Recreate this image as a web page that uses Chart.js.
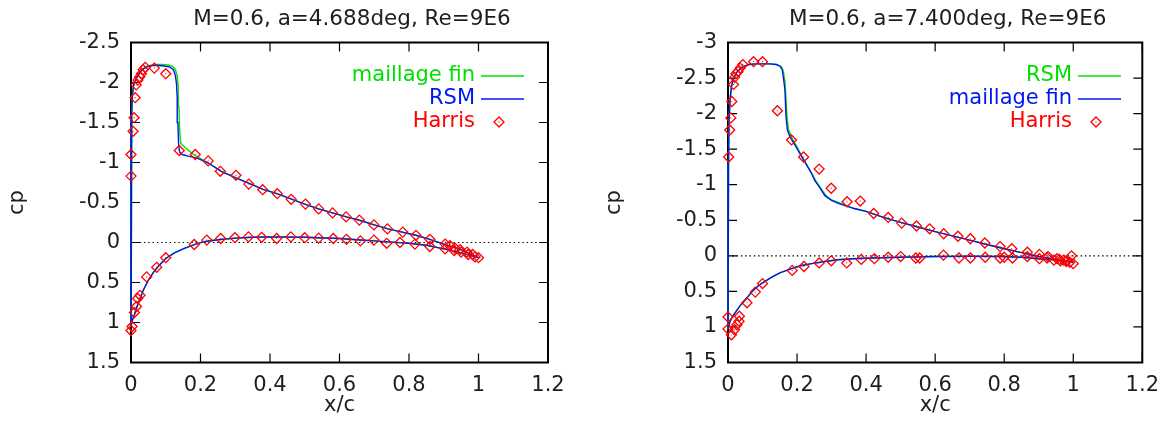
<!DOCTYPE html>
<html>
<head>
<meta charset="utf-8">
<title>cp - x/c</title>
<script src="https://cdn.jsdelivr.net/npm/chart.js@4.4.1/dist/chart.umd.min.js"></script>
<style>
  html, body { margin: 0; padding: 0; background: #fff; overflow: hidden; }
  .panel { position: absolute; top: 0; height: 421px; }
  #panelLow { left: 0; width: 597px; }
  #panelHigh { left: 597px; width: 572px; }
</style>
</head>
<body>
<div class="panel" id="panelLow"><canvas id="cpLow"></canvas></div>
<div class="panel" id="panelHigh"><canvas id="cpHigh"></canvas></div>
<script>
// Axis ticks
const xTicks = [0, 0.2, 0.4, 0.6, 0.8, 1, 1.2];
const cpTicksLow = [-2.5, -2, -1.5, -1, -0.5, 0, 0.5, 1, 1.5];
const cpTicksHigh = [-3, -2.5, -2, -1.5, -1, -0.5, 0, 0.5, 1, 1.5];

const titleLow = 'M=0.6, a=4.688deg, Re=9E6';
const titleHigh = 'M=0.6, a=7.400deg, Re=9E6';

// a = 4.688 deg : computed curves, [x/c, cp], trailing edge -> leading edge -> trailing edge
const lowRsm = [
  [1.0, 0.19], [0.95, 0.09], [0.90, 0.02], [0.86, -0.04], [0.82, -0.09], [0.78, -0.13],
  [0.74, -0.17], [0.70, -0.22], [0.66, -0.275], [0.62, -0.32], [0.58, -0.37], [0.54, -0.42],
  [0.50, -0.48], [0.46, -0.545], [0.42, -0.61], [0.38, -0.665], [0.34, -0.74], [0.30, -0.81],
  [0.26, -0.89], [0.22, -1.0], [0.19, -1.055], [0.165, -1.08], [0.147, -1.10], [0.14, -1.13],
  [0.137, -1.22], [0.135, -1.5], [0.133, -1.8], [0.131, -1.98], [0.128, -2.08], [0.124, -2.14],
  [0.12, -2.17], [0.11, -2.195], [0.09, -2.21], [0.07, -2.215], [0.05, -2.205], [0.035, -2.17],
  [0.025, -2.12], [0.015, -2.05], [0.008, -1.98], [0.004, -1.85], [0.002, -1.6], [0.001, -1.1],
  [0.0005, -0.3], [0.0, 0.5], [0.0005, 1.05], [0.003, 0.98], [0.01, 0.9], [0.02, 0.77],
  [0.035, 0.60], [0.05, 0.47], [0.065, 0.37], [0.08, 0.29], [0.10, 0.20], [0.125, 0.13],
  [0.15, 0.08], [0.18, 0.03], [0.21, -0.01], [0.25, -0.035], [0.30, -0.055], [0.35, -0.065],
  [0.40, -0.07], [0.50, -0.065], [0.60, -0.05], [0.65, -0.035], [0.70, -0.02], [0.75, -0.005],
  [0.80, 0.01], [0.85, 0.035], [0.90, 0.08], [0.95, 0.13], [1.0, 0.19]
];
const lowFine = [
  [1.0, 0.19], [0.95, 0.09], [0.90, 0.02], [0.86, -0.04], [0.82, -0.09], [0.78, -0.13],
  [0.74, -0.17], [0.70, -0.22], [0.66, -0.275], [0.62, -0.32], [0.58, -0.37], [0.54, -0.42],
  [0.50, -0.48], [0.46, -0.545], [0.42, -0.61], [0.38, -0.665], [0.34, -0.74], [0.30, -0.81],
  [0.26, -0.89], [0.22, -1.0], [0.20, -1.05], [0.18, -1.10], [0.16, -1.17], [0.143, -1.24],
  [0.14, -1.4], [0.138, -1.7], [0.136, -1.95], [0.133, -2.08], [0.128, -2.16], [0.12, -2.2],
  [0.11, -2.215], [0.09, -2.225], [0.07, -2.225], [0.05, -2.21], [0.035, -2.17],
  [0.025, -2.12], [0.015, -2.05], [0.008, -1.98], [0.004, -1.85], [0.002, -1.6], [0.001, -1.1],
  [0.0005, -0.3], [0.0, 0.5], [0.0005, 1.05], [0.003, 0.98], [0.01, 0.9], [0.02, 0.77],
  [0.035, 0.60], [0.05, 0.47], [0.065, 0.37], [0.08, 0.29], [0.10, 0.20], [0.125, 0.13],
  [0.15, 0.08], [0.18, 0.03], [0.21, -0.01], [0.25, -0.035], [0.30, -0.055], [0.35, -0.065],
  [0.40, -0.07], [0.50, -0.065], [0.60, -0.05], [0.65, -0.035], [0.70, -0.02], [0.75, -0.005],
  [0.80, 0.01], [0.85, 0.035], [0.90, 0.08], [0.95, 0.13], [1.0, 0.19]
];
// a = 4.688 deg : Harris measurements
const lowHarris = [
  [0.0, -0.83], [0.0, -1.10], [0.006, -1.39], [0.009, -1.56], [0.012, -1.81], [0.015, -1.97],
  [0.02, -2.03], [0.025, -2.07], [0.03, -2.11], [0.035, -2.16], [0.041, -2.19], [0.067, -2.18],
  [0.10, -2.11], [0.139, -1.15], [0.185, -1.10], [0.222, -1.02], [0.257, -0.89], [0.302, -0.84],
  [0.339, -0.73], [0.379, -0.66], [0.421, -0.61], [0.461, -0.54], [0.502, -0.48], [0.54, -0.42],
  [0.58, -0.37], [0.619, -0.32], [0.657, -0.28], [0.699, -0.22], [0.738, -0.17], [0.782, -0.13],
  [0.82, -0.09], [0.86, -0.04], [0.904, 0.02], [0.918, 0.04], [0.932, 0.07], [0.947, 0.09],
  [0.967, 0.12], [0.983, 0.15], [1.0, 0.19],
  [0.0, 1.10], [0.003, 1.05], [0.01, 0.875], [0.016, 0.80], [0.019, 0.70], [0.026, 0.66],
  [0.045, 0.43], [0.074, 0.31], [0.10, 0.19], [0.182, 0.025], [0.218, -0.03], [0.258, -0.05],
  [0.299, -0.06], [0.338, -0.07], [0.376, -0.065], [0.419, -0.05], [0.46, -0.07], [0.50, -0.06],
  [0.54, -0.055], [0.582, -0.05], [0.62, -0.04], [0.66, -0.02], [0.699, -0.03], [0.736, 0.01],
  [0.774, 0.0], [0.817, 0.02], [0.86, 0.05], [0.904, 0.08], [0.93, 0.10], [0.95, 0.12],
  [0.97, 0.15], [0.99, 0.18]
];

// a = 7.400 deg : computed curves
const highFine = [
  [1.0, 0.09], [0.95, 0.05], [0.90, 0.01], [0.85, -0.045], [0.80, -0.10], [0.75, -0.16],
  [0.70, -0.22], [0.65, -0.28], [0.60, -0.34], [0.55, -0.405], [0.50, -0.47], [0.45, -0.54],
  [0.40, -0.625], [0.366, -0.665], [0.33, -0.72], [0.318, -0.74], [0.30, -0.78], [0.28, -0.85],
  [0.266, -0.96], [0.251, -1.06], [0.242, -1.16], [0.213, -1.40], [0.195, -1.55], [0.18, -1.67],
  [0.172, -1.77], [0.168, -1.96], [0.165, -2.33], [0.162, -2.45], [0.157, -2.62], [0.15, -2.67],
  [0.14, -2.69], [0.12, -2.7], [0.10, -2.7], [0.08, -2.7], [0.06, -2.69], [0.04, -2.65],
  [0.025, -2.58], [0.015, -2.48], [0.01, -2.38], [0.006, -2.2], [0.003, -1.9], [0.0015, -1.3],
  [0.0005, -0.4], [0.0, 0.6], [0.0005, 1.0], [0.004, 0.95], [0.01, 0.88], [0.021, 0.80],
  [0.035, 0.70], [0.05, 0.62], [0.07, 0.50], [0.088, 0.42], [0.10, 0.38], [0.127, 0.30],
  [0.15, 0.24], [0.184, 0.18], [0.21, 0.14], [0.242, 0.11], [0.28, 0.08], [0.318, 0.055],
  [0.36, 0.04], [0.414, 0.03], [0.50, 0.02], [0.60, 0.01], [0.70, 0.005], [0.80, 0.01],
  [0.85, 0.02], [0.90, 0.04], [0.95, 0.06], [1.0, 0.09]
];
const highRsm = [
  [1.0, 0.09], [0.95, 0.05], [0.90, 0.01], [0.85, -0.045], [0.80, -0.10], [0.75, -0.16],
  [0.70, -0.22], [0.65, -0.28], [0.60, -0.34], [0.55, -0.405], [0.50, -0.47], [0.45, -0.54],
  [0.40, -0.625], [0.366, -0.665], [0.33, -0.73], [0.32, -0.75], [0.30, -0.785], [0.285, -0.84],
  [0.27, -0.94], [0.255, -1.05], [0.245, -1.14], [0.215, -1.39], [0.20, -1.53], [0.185, -1.66],
  [0.175, -1.78], [0.171, -1.95], [0.168, -2.2], [0.165, -2.45], [0.16, -2.6], [0.155, -2.66],
  [0.14, -2.69], [0.12, -2.7], [0.10, -2.7], [0.08, -2.7], [0.06, -2.69], [0.04, -2.65],
  [0.025, -2.58], [0.015, -2.48], [0.01, -2.38], [0.006, -2.2], [0.003, -1.9], [0.0015, -1.3],
  [0.0005, -0.4], [0.0, 0.6], [0.0005, 1.0], [0.004, 0.95], [0.01, 0.88], [0.021, 0.80],
  [0.035, 0.70], [0.05, 0.62], [0.07, 0.50], [0.088, 0.42], [0.10, 0.38], [0.127, 0.30],
  [0.15, 0.24], [0.184, 0.18], [0.21, 0.14], [0.242, 0.11], [0.28, 0.08], [0.318, 0.055],
  [0.36, 0.04], [0.414, 0.03], [0.50, 0.02], [0.60, 0.01], [0.70, 0.005], [0.80, 0.01],
  [0.85, 0.02], [0.90, 0.04], [0.95, 0.06], [1.0, 0.09]
];
// a = 7.400 deg : Harris measurements
const highHarris = [
  [0.002, -1.39], [0.005, -1.77], [0.008, -1.94], [0.011, -2.17], [0.016, -2.41], [0.019, -2.51],
  [0.023, -2.56], [0.029, -2.59], [0.035, -2.64], [0.043, -2.69], [0.074, -2.73], [0.10, -2.73],
  [0.143, -2.04], [0.184, -1.63], [0.219, -1.39], [0.264, -1.22], [0.299, -0.95], [0.345, -0.76],
  [0.383, -0.77], [0.422, -0.595], [0.464, -0.54], [0.503, -0.46], [0.546, -0.42], [0.584, -0.38],
  [0.625, -0.31], [0.666, -0.275], [0.702, -0.24], [0.744, -0.18], [0.788, -0.13], [0.822, -0.10],
  [0.867, -0.05], [0.902, -0.02], [0.927, 0.01], [0.953, 0.04], [0.96, 0.05], [0.972, 0.06],
  [0.98, 0.07], [0.99, 0.09], [0.995, 0.0], [1.0, 0.11],
  [0.0, 0.86], [0.0, 1.03], [0.01, 1.11], [0.019, 1.04], [0.026, 0.97], [0.032, 0.92],
  [0.033, 0.85], [0.055, 0.66], [0.079, 0.51], [0.10, 0.39], [0.186, 0.205], [0.22, 0.15],
  [0.264, 0.10], [0.299, 0.07], [0.344, 0.10], [0.386, 0.05], [0.424, 0.04], [0.464, 0.02],
  [0.50, 0.01], [0.544, 0.03], [0.555, 0.03], [0.624, -0.01], [0.669, 0.03], [0.702, 0.03],
  [0.745, 0.02], [0.788, 0.03], [0.80, 0.02], [0.824, 0.03], [0.867, 0.01], [0.902, 0.04],
  [0.924, 0.03], [0.944, 0.06], [0.963, 0.07], [0.98, 0.08]
];

const GREEN = '#00e000';
const BLUE = '#0018f0';
const RED = '#ff0000';
const INK = '#1e1e1e';
const FONT = { family: '"DejaVu Sans", Verdana, sans-serif', size: 21 };

const toXY = pairs => pairs.map(([x, y]) => ({ x, y }));
const fmt = v => String(Math.round(v * 10) / 10);

function curve(label, pairs, color, keyRow, order) {
  return {
    label, data: toXY(pairs), keyRow, order,
    showLine: true, borderColor: color, borderWidth: 1.4,
    pointRadius: 0, tension: 0, fill: false, clip: 4
  };
}

function harris(pairs) {
  return [{
    label: 'Harris', data: toXY(pairs), keyRow: 2, order: 0,
    showLine: false, pointStyle: 'rectRot', pointRadius: 5,
    borderColor: RED, borderWidth: 1.3, backgroundColor: 'transparent', clip: false
  }, {
    label: 'Harris centre', data: toXY(pairs), order: 0,
    showLine: false, pointStyle: 'circle', pointRadius: 0.6,
    borderWidth: 0, backgroundColor: RED, clip: false
  }];
}

function zeroLine() {
  return {
    label: 'zero', data: [{ x: 0, y: 0 }, { x: 1.2, y: 0 }], order: 5,
    showLine: true, borderColor: '#000', borderWidth: 1.1, borderDash: [1.5, 2.8],
    pointRadius: 0
  };
}

// box, inward tick marks on all four sides, title and key
const gnuFrame = {
  id: 'gnuFrame',
  beforeDatasetsDraw(chart) {
    const { ctx, chartArea: a, scales: { x, y } } = chart;
    const len = 9;
    ctx.save();
    ctx.strokeStyle = '#000';
    ctx.lineWidth = 1.2;
    ctx.beginPath();
    x.ticks.forEach(t => {
      const px = x.getPixelForValue(t.value);
      ctx.moveTo(px, a.top); ctx.lineTo(px, a.top + len);
      ctx.moveTo(px, a.bottom); ctx.lineTo(px, a.bottom - len);
    });
    y.ticks.forEach(t => {
      const py = y.getPixelForValue(t.value);
      ctx.moveTo(a.left, py); ctx.lineTo(a.left + len, py);
      ctx.moveTo(a.right, py); ctx.lineTo(a.right - len, py);
    });
    ctx.stroke();
    ctx.lineWidth = 2;
    ctx.strokeRect(a.left, a.top, a.right - a.left, a.bottom - a.top);
    ctx.restore();
  },
  afterDraw(chart, args, opts) {
    const { ctx, chartArea: a } = chart;
    ctx.save();
    ctx.textBaseline = 'middle';
    ctx.fillStyle = INK;
    ctx.textAlign = 'center';
    ctx.font = `21.5px ${FONT.family}`;
    ctx.fillText(opts.title, (a.left + a.right) / 2 + 12.5, 19);
    ctx.font = `${FONT.size}px ${FONT.family}`;

    // key, top right inside the box
    const rows = chart.data.datasets.filter(d => d.keyRow !== undefined)
      .sort((p, q) => p.keyRow - q.keyRow);
    rows.forEach(d => {
      const yy = a.top + 33.5 + d.keyRow * 23;
      ctx.fillStyle = d.borderColor;
      ctx.textAlign = 'right';
      ctx.fillText(d.label, a.left + 344, yy);
      ctx.strokeStyle = d.borderColor;
      if (d.showLine) {
        ctx.lineWidth = d.borderWidth;
        ctx.beginPath();
        ctx.moveTo(a.left + 350, yy);
        ctx.lineTo(a.left + 393, yy);
        ctx.stroke();
      } else {
        const cx = a.left + 368, r = d.pointRadius;
        ctx.lineWidth = d.borderWidth;
        ctx.beginPath();
        ctx.moveTo(cx - r, yy); ctx.lineTo(cx, yy - r);
        ctx.lineTo(cx + r, yy); ctx.lineTo(cx, yy + r);
        ctx.closePath();
        ctx.stroke();
        ctx.fillStyle = d.borderColor;
        ctx.fillRect(cx - 0.6, yy - 0.6, 1.2, 1.2);
      }
    });
    ctx.restore();
  }
};

function makeChart(id, datasets, cpTicks, title, rightPad) {
  return new Chart(id, {
    type: 'scatter',
    data: { datasets },
    plugins: [gnuFrame],
    options: {
      responsive: true,
      maintainAspectRatio: false,
      animation: false,
      events: [],
      layout: { padding: { top: 42.5, right: rightPad, bottom: 0, left: 0 } },
      plugins: {
        legend: { display: false },
        tooltip: { enabled: false },
        gnuFrame: { title }
      },
      scales: {
        x: {
          type: 'linear', min: 0, max: 1.2,
          afterBuildTicks: s => { s.ticks = xTicks.map(value => ({ value })); },
          afterFit: s => { s.height = 58.5; },
          grid: { display: false, drawTicks: false },
          border: { display: false },
          ticks: { font: FONT, color: INK, padding: 10, maxRotation: 0, autoSkip: false, callback: fmt },
          title: { display: true, text: 'x/c', font: FONT, color: INK, padding: { top: 0, bottom: 3 } }
        },
        y: {
          type: 'linear', reverse: true, min: cpTicks[0], max: cpTicks[cpTicks.length - 1],
          afterBuildTicks: s => { s.ticks = cpTicks.map(value => ({ value })); },
          afterFit: s => { s.width = 131; },
          grid: { display: false, drawTicks: false },
          border: { display: false },
          ticks: { font: FONT, color: INK, padding: 11, autoSkip: false, callback: fmt },
          title: { display: true, text: 'cp', font: FONT, color: INK, padding: { top: 4.6, bottom: 0 } }
        }
      }
    }
  });
}

makeChart('cpLow', [
  ...harris(lowHarris),
  curve('RSM', lowRsm, BLUE, 1, 1),
  curve('maillage fin', lowFine, GREEN, 0, 2),
  zeroLine()
], cpTicksLow, titleLow, 49);

makeChart('cpHigh', [
  ...harris(highHarris),
  curve('maillage fin', highFine, BLUE, 1, 1),
  curve('RSM', highRsm, GREEN, 0, 2),
  zeroLine()
], cpTicksHigh, titleHigh, 24);
</script>
</body>
</html>
